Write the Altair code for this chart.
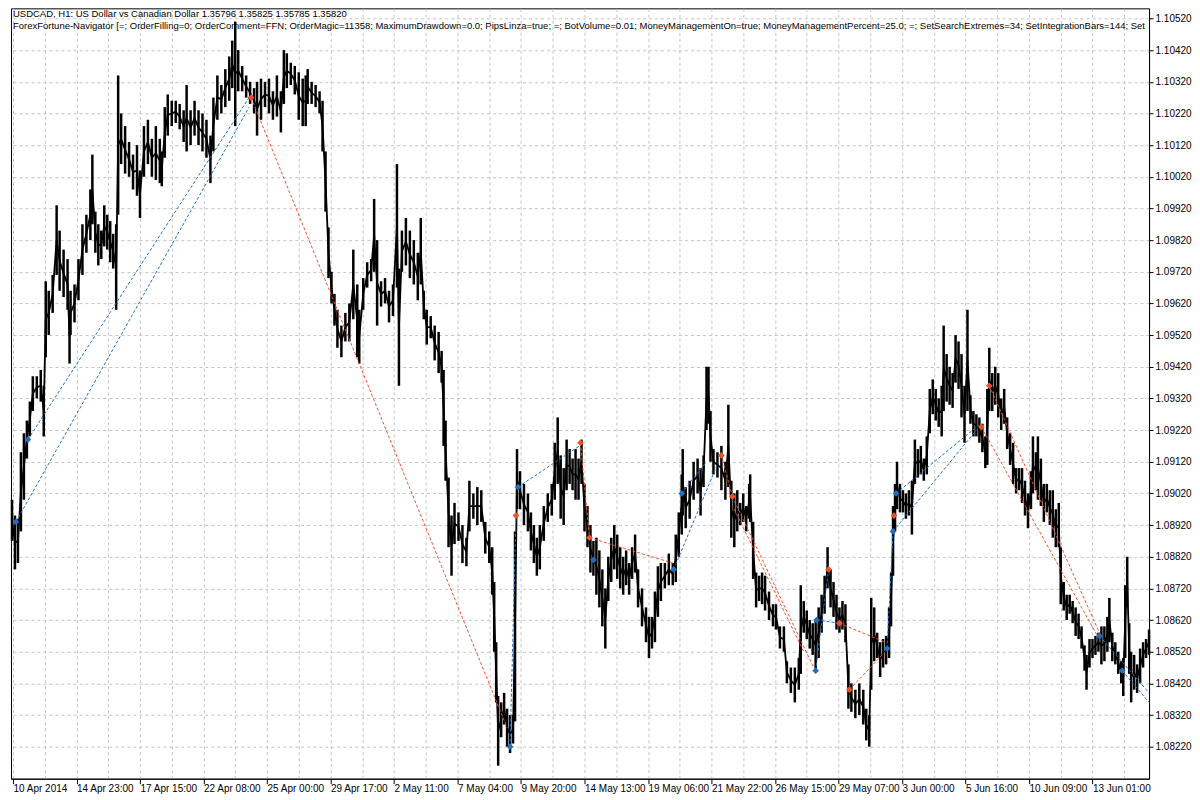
import altair as alt
import pandas as pd

# ---------------- price bars (hour index, high, low) ----------------
bar_t = [
    -1, 2, 5, 8, 11, 14, 17, 20, 24, 28,
    31, 33, 36, 40, 44, 47, 51, 55, 57, 58,
    62, 66, 70, 74, 78, 80, 83, 86, 89, 92,
    95, 98, 101, 104, 106, 109, 113, 117, 121, 125,
    128, 132, 136, 140, 144, 148, 150, 153, 156, 160,
    164, 168, 172, 175, 179, 183, 187, 191, 195, 199,
    202, 206, 210, 214, 218, 221, 224, 227, 231, 235,
    239, 243, 246, 250, 254, 258, 262, 266, 270, 273,
    276, 280, 284, 288, 292, 295, 297, 301, 305, 309,
    312, 315, 318, 321, 324, 327, 331, 335, 339, 343,
    347, 349, 353, 357, 361, 364, 367, 371, 375, 379,
    383, 387, 389, 392, 396, 400, 404, 408, 411, 414,
    417, 421, 425, 429, 432, 434, 436, 439, 442, 445,
    449, 453, 457, 460, 464, 468, 472, 476, 480, 483,
    485, 487, 489, 492, 495, 498, 501, 504, 506, 508,
    511, 515, 519, 522, 525, 528, 531, 535, 539, 543,
    546, 549, 552, 555, 558, 561, 564, 567, 570, 573,
    576, 579, 582, 585, 588, 591, 594, 597, 600, 603,
    606, 609, 612, 615, 618, 621, 624, 627, 630, 634,
    638, 641, 644, 647, 650, 653, 657, 661, 665, 668,
    671, 674, 675, 678, 682, 686, 690, 693, 696, 699,
    701, 703, 706, 710, 714, 718, 721, 724, 727, 730,
    733, 736, 739, 742, 743, 746, 749, 752, 755, 758,
    762, 766, 769, 773, 777, 780, 784, 788, 792, 794,
    797, 800, 803, 806, 809, 812, 815, 818, 821, 824,
    827, 830, 833, 836, 839, 842, 845, 849, 853, 857,
    860, 863, 865, 868, 871, 874, 877, 880, 883, 885,
    887, 889, 891, 894, 897, 900, 903, 906, 909, 912,
    915, 918, 921, 924, 927, 930, 933, 936, 938, 941,
    944, 947, 950, 953, 956, 959, 962, 965, 968, 971,
    974, 977, 980, 982, 984, 987, 990, 993, 996, 999,
    1002, 1005, 1008, 1011, 1014, 1017, 1020, 1023, 1026, 1028,
    1031, 1033, 1036, 1039, 1042, 1045, 1048, 1051, 1054, 1056,
    1059, 1062, 1065, 1068, 1071, 1074, 1077, 1080, 1082, 1085,
    1088, 1091, 1094, 1097, 1100, 1103, 1105, 1108, 1111, 1114,
    1117, 1119, 1121, 1123, 1125, 1127, 1130, 1133, 1136, 1139,
    1142, 1145,
]
bar_high = [
    1.0900, 1.0895, 1.0894, 1.0915, 1.0921, 1.0925, 1.0931, 1.0939, 1.0939, 1.0941,
    1.0936, 1.0969, 1.0966, 1.0971, 1.0993, 1.0985, 1.0979, 1.0976, 1.0960, 1.0966,
    1.0968, 1.0976, 1.0987, 1.0990, 1.0998, 1.1009, 1.0991, 1.0987, 1.0985, 1.0993,
    1.0990, 1.0988, 1.0984, 1.0987, 1.1034, 1.1022, 1.1018, 1.1013, 1.1009, 1.1012,
    1.1004, 1.1018, 1.1020, 1.1014, 1.1018, 1.1014, 1.1010, 1.1024, 1.1028, 1.1026,
    1.1026, 1.1025, 1.1023, 1.1031, 1.1023, 1.1026, 1.1023, 1.1022, 1.1020, 1.1015,
    1.1027, 1.1034, 1.1031, 1.1036, 1.1040, 1.1045, 1.1051, 1.1042, 1.1037, 1.1034,
    1.1032, 1.1030, 1.1032, 1.1033, 1.1032, 1.1033, 1.1029, 1.1034, 1.1029, 1.1042,
    1.1041, 1.1038, 1.1037, 1.1035, 1.1033, 1.1034, 1.1036, 1.1032, 1.1031, 1.1029,
    1.1026, 1.1010, 1.0986, 1.0972, 1.0965, 1.0960, 1.0955, 1.0959, 1.0962, 1.0979,
    1.0968, 1.0960, 1.0970, 1.0975, 1.0976, 1.0995, 1.0982, 1.0969, 1.0970, 1.0966,
    1.0968, 1.1006, 1.0973, 1.0985, 1.0989, 1.0985, 1.0982, 1.0978, 1.0989, 1.0966,
    1.0960, 1.0958, 1.0955, 1.0953, 1.0947, 1.0941, 1.0925, 1.0907, 1.0895, 1.0899,
    1.0896, 1.0892, 1.0888, 1.0906, 1.0902, 1.0904, 1.0903, 1.0893, 1.0890, 1.0885,
    1.0874, 1.0855, 1.0838, 1.0836, 1.0839, 1.0834, 1.0832, 1.0832, 1.0890, 1.0916,
    1.0909, 1.0905, 1.0902, 1.0896, 1.0892, 1.0888, 1.0892, 1.0898, 1.0902, 1.0905,
    1.0918, 1.0926, 1.0914, 1.0910, 1.0919, 1.0916, 1.0913, 1.0916, 1.0913, 1.0919,
    1.0905, 1.0898, 1.0892, 1.0887, 1.0888, 1.0884, 1.0878, 1.0872, 1.0882, 1.0888,
    1.0892, 1.0889, 1.0885, 1.0882, 1.0884, 1.0880, 1.0885, 1.0889, 1.0878, 1.0872,
    1.0866, 1.0863, 1.0863, 1.0871, 1.0879, 1.0880, 1.0880, 1.0883, 1.0880, 1.0889,
    1.0896, 1.0908, 1.0916, 1.0904, 1.0906, 1.0912, 1.0913, 1.0910, 1.0914, 1.0942,
    1.0942, 1.0928, 1.0916, 1.0915, 1.0917, 1.0912, 1.0930, 1.0906, 1.0902, 1.0903,
    1.0899, 1.0902, 1.0898, 1.0905, 1.0908, 1.0893, 1.0877, 1.0876, 1.0877, 1.0876,
    1.0871, 1.0867, 1.0867, 1.0860, 1.0860, 1.0849, 1.0847, 1.0847, 1.0850, 1.0873,
    1.0868, 1.0865, 1.0862, 1.0861, 1.0862, 1.0866, 1.0870, 1.0876, 1.0885, 1.0878,
    1.0874, 1.0870, 1.0866, 1.0868, 1.0867, 1.0848, 1.0842, 1.0840, 1.0842, 1.0840,
    1.0834, 1.0832, 1.0869, 1.0866, 1.0858, 1.0855, 1.0856, 1.0857, 1.0866, 1.0877,
    1.0898, 1.0905, 1.0912, 1.0905, 1.0903, 1.0902, 1.0903, 1.0906, 1.0919, 1.0916,
    1.0917, 1.0913, 1.0920, 1.0935, 1.0938, 1.0935, 1.0932, 1.0936, 1.0955, 1.0946,
    1.0942, 1.0940, 1.0952, 1.0950, 1.0946, 1.0936, 1.0960, 1.0933, 1.0928, 1.0927,
    1.0926, 1.0924, 1.0920, 1.0935, 1.0948, 1.0940, 1.0942, 1.0940, 1.0932, 1.0935,
    1.0926, 1.0921, 1.0918, 1.0910, 1.0910, 1.0910, 1.0906, 1.0902, 1.0909, 1.0920,
    1.0915, 1.0920, 1.0913, 1.0905, 1.0905, 1.0903, 1.0903, 1.0897, 1.0899, 1.0885,
    1.0874, 1.0870, 1.0870, 1.0868, 1.0866, 1.0864, 1.0860, 1.0854, 1.0851, 1.0856,
    1.0856, 1.0857, 1.0858, 1.0860, 1.0860, 1.0863, 1.0869, 1.0858, 1.0855, 1.0852,
    1.0849, 1.0850, 1.0873, 1.0882, 1.0861, 1.0852, 1.0851, 1.0848, 1.0853, 1.0855,
    1.0856, 1.0859,
]
bar_low = [
    1.0887, 1.0878, 1.0880, 1.0890, 1.0900, 1.0913, 1.0920, 1.0928, 1.0932, 1.0931,
    1.0920, 1.0945, 1.0952, 1.0959, 1.0971, 1.0966, 1.0964, 1.0960, 1.0943, 1.0952,
    1.0956, 1.0963, 1.0971, 1.0978, 1.0982, 1.0987, 1.0978, 1.0974, 1.0976, 1.0980,
    1.0979, 1.0975, 1.0973, 1.0960, 1.0990, 1.1006, 1.1003, 1.1002, 1.0998, 1.0996,
    1.0989, 1.1002, 1.1006, 1.1002, 1.1001, 1.1000, 1.0999, 1.1008, 1.1015, 1.1018,
    1.1019, 1.1017, 1.1013, 1.1010, 1.1012, 1.1015, 1.1012, 1.1010, 1.1008, 1.1000,
    1.1010, 1.1020, 1.1022, 1.1024, 1.1026, 1.1030, 1.1018, 1.1029, 1.1029, 1.1027,
    1.1025, 1.1022, 1.1015, 1.1020, 1.1024, 1.1022, 1.1020, 1.1021, 1.1016, 1.1025,
    1.1030, 1.1031, 1.1028, 1.1020, 1.1018, 1.1018, 1.1025, 1.1025, 1.1024, 1.1022,
    1.1010, 1.0991, 1.0970, 1.0962, 1.0955, 1.0948, 1.0945, 1.0950, 1.0950, 1.0957,
    1.0945, 1.0943, 1.0960, 1.0967, 1.0969, 1.0972, 1.0955, 1.0961, 1.0962, 1.0956,
    1.0958, 1.0967, 1.0936, 1.0972, 1.0974, 1.0970, 1.0968, 1.0963, 1.0968, 1.0957,
    1.0949, 1.0951, 1.0944, 1.0940, 1.0937, 1.0917, 1.0906, 1.0885, 1.0876, 1.0886,
    1.0887, 1.0880, 1.0879, 1.0890, 1.0894, 1.0892, 1.0893, 1.0883, 1.0880, 1.0870,
    1.0852, 1.0836, 1.0816, 1.0825, 1.0829, 1.0822, 1.0820, 1.0823, 1.0830, 1.0897,
    1.0897, 1.0892, 1.0890, 1.0884, 1.0880, 1.0876, 1.0878, 1.0887, 1.0893, 1.0895,
    1.0900, 1.0905, 1.0894, 1.0892, 1.0903, 1.0905, 1.0903, 1.0900, 1.0900, 1.0905,
    1.0890, 1.0885, 1.0877, 1.0876, 1.0870, 1.0866, 1.0860, 1.0853, 1.0868, 1.0874,
    1.0878, 1.0875, 1.0872, 1.0870, 1.0873, 1.0870, 1.0875, 1.0877, 1.0866, 1.0860,
    1.0855, 1.0850, 1.0853, 1.0855, 1.0863, 1.0868, 1.0872, 1.0873, 1.0873, 1.0874,
    1.0882, 1.0889, 1.0895, 1.0891, 1.0894, 1.0900, 1.0902, 1.0895, 1.0904, 1.0922,
    1.0924, 1.0912, 1.0908, 1.0907, 1.0903, 1.0900, 1.0904, 1.0888, 1.0885, 1.0890,
    1.0892, 1.0893, 1.0890, 1.0894, 1.0893, 1.0875, 1.0866, 1.0868, 1.0867, 1.0865,
    1.0862, 1.0860, 1.0859, 1.0853, 1.0852, 1.0842, 1.0839, 1.0836, 1.0840, 1.0845,
    1.0858, 1.0856, 1.0853, 1.0851, 1.0846, 1.0850, 1.0858, 1.0864, 1.0872, 1.0866,
    1.0863, 1.0859, 1.0858, 1.0859, 1.0855, 1.0834, 1.0833, 1.0831, 1.0832, 1.0829,
    1.0824, 1.0822, 1.0840, 1.0849, 1.0850, 1.0844, 1.0847, 1.0848, 1.0850, 1.0860,
    1.0876, 1.0890, 1.0897, 1.0896, 1.0896, 1.0894, 1.0895, 1.0889, 1.0905, 1.0907,
    1.0908, 1.0906, 1.0908, 1.0921, 1.0927, 1.0925, 1.0923, 1.0920, 1.0928, 1.0931,
    1.0930, 1.0929, 1.0937, 1.0935, 1.0926, 1.0918, 1.0928, 1.0924, 1.0920, 1.0920,
    1.0918, 1.0915, 1.0910, 1.0911, 1.0928, 1.0928, 1.0930, 1.0926, 1.0922, 1.0924,
    1.0916, 1.0911, 1.0905, 1.0902, 1.0903, 1.0899, 1.0895, 1.0891, 1.0897, 1.0902,
    1.0903, 1.0900, 1.0898, 1.0893, 1.0896, 1.0892, 1.0888, 1.0885, 1.0885, 1.0867,
    1.0865, 1.0862, 1.0864, 1.0861, 1.0857, 1.0856, 1.0853, 1.0846, 1.0840, 1.0847,
    1.0850, 1.0851, 1.0852, 1.0848, 1.0849, 1.0852, 1.0855, 1.0849, 1.0848, 1.0845,
    1.0842, 1.0838, 1.0850, 1.0866, 1.0845, 1.0836, 1.0840, 1.0839, 1.0842, 1.0847,
    1.0850, 1.0851,
]

# ---------------- trade markers ----------------
marker_t = [3, 15, 240, 501, 507, 509, 572, 581, 585, 666, 674, 714, 725,
            809, 810, 822, 833, 843, 881, 887, 888, 890, 976, 984, 1095, 1118]
marker_p = [1.0893, 1.0919, 1.1027, 1.0822, 1.0895, 1.0904, 1.0918, 1.0888,
            1.0881, 1.0878, 1.0902, 1.0914, 1.0901, 1.0846, 1.0862, 1.0878,
            1.0861, 1.0840, 1.0853, 1.0890, 1.0895, 1.0902, 1.0923, 1.0936,
            1.0857, 1.0846]
marker_side = ["buy", "buy", "sell", "buy", "sell", "buy", "sell", "sell",
               "buy", "buy", "buy", "sell", "sell", "buy", "buy", "sell",
               "sell", "sell", "buy", "buy", "sell", "buy", "sell", "sell",
               "buy", "buy"]

# ---------------- trade connection lines ----------------
trade_open_t = [3, 15, 240, 501, 509, 572, 581, 666, 674, 714, 725, 727,
                809, 810, 833, 843, 881, 887, 890, 976, 984, 1095, 1118]
trade_open_p = [1.0893, 1.0919, 1.1027, 1.0822, 1.0904, 1.0918, 1.0888, 1.0878,
                1.0902, 1.0914, 1.0901, 1.0897, 1.0846, 1.0862, 1.0861, 1.0840,
                1.0853, 1.0890, 1.0902, 1.0923, 1.0936, 1.0857, 1.0846]
trade_close_t = [238, 240, 498, 507, 571, 581, 665, 711, 699, 725, 807, 797,
                 822, 833, 879, 879, 887, 971, 975, 1093, 1095, 1145, 1145]
trade_close_p = [1.1024, 1.1028, 1.0828, 1.0895, 1.0917, 1.0888, 1.0880, 1.0912,
                 1.0912, 1.0901, 1.0847, 1.0852, 1.0878, 1.0861, 1.0855, 1.0852,
                 1.0890, 1.0922, 1.0924, 1.0857, 1.0858, 1.0839, 1.0836]
trade_side = ["buy", "buy", "sell", "buy", "buy", "sell", "sell", "buy", "buy",
              "sell", "sell", "sell", "buy", "buy", "sell", "sell", "buy", "buy",
              "buy", "sell", "sell", "buy", "buy"]

# ---------------- axis labels ----------------
x_label_t = [0, 64, 128, 192, 256, 320, 384, 448, 512, 576, 640, 704, 768,
             832, 896, 960, 1024, 1088]
x_labels = ["10 Apr 2014", "14 Apr 23:00", "17 Apr 15:00", "22 Apr 08:00",
            "25 Apr 00:00", "29 Apr 17:00", "2 May 11:00", "7 May 04:00",
            "9 May 20:00", "14 May 13:00", "19 May 06:00", "21 May 22:00",
            "26 May 15:00", "29 May 07:00", "3 Jun 00:00", "5 Jun 16:00",
            "10 Jun 09:00", "13 Jun 01:00"]
x_grid_t = list(range(0, 1121, 32))
y_ticks = [round(1.08220 + 0.001 * k, 5) for k in range(24)]

title_line1 = "USDCAD, H1:  US Dollar vs Canadian Dollar  1.35796 1.35825 1.35785 1.35820"
title_line2 = ("ForexFortune-Navigator [=; OrderFilling=0; OrderComment=FFN; OrderMagic=11358; "
               "MaximumDrawdown=0.0; PipsLinza=true; =; BotVolume=0.01; MoneyManagementOn=true; "
               "MoneyManagementPercent=25.0; =; SetSearchExtremes=34; SetIntegrationBars=144; Set")

BLUE = "#1f6fc0"
RED = "#ef5028"
FONT = "Liberation Sans"

bars = pd.DataFrame({"t": bar_t, "high": bar_high, "low": bar_low})
bars["mid"] = (bars["high"] + bars["low"]) / 2
markers = pd.DataFrame({"t": marker_t, "p": marker_p, "side": marker_side})
trades = pd.DataFrame({"t0": trade_open_t, "p0": trade_open_p,
                       "t1": trade_close_t, "p1": trade_close_p, "side": trade_side})

label_expr = " : ".join(
    f"datum.value == {t} ? '{lab}'" for t, lab in zip(x_label_t, x_labels)
) + " : ''"

x_scale = alt.Scale(domain=[-2, 1145], nice=False, zero=False)
y_scale = alt.Scale(domain=[1.08119, 1.10552], nice=False, zero=False)
color_scale = alt.Scale(domain=["buy", "sell"], range=[BLUE, RED])

x_axis = alt.Axis(
    values=x_grid_t, labelExpr=label_expr, title=None,
    grid=True, gridDash=[3, 3], gridColor="#c4c4c4", gridWidth=1,
    tickColor={"condition": {"test": "datum.value % 64 === 0", "value": "black"},
               "value": "transparent"},
    tickSize=5, labelAlign="left", labelBaseline="top", labelPadding=0,
    labelFont=FONT, labelFontSize=10, labelColor="black", labelOverlap=False,
    labelFlush=False, domainColor="black",
)
y_axis = alt.Axis(
    values=y_ticks, format=".5f", orient="right", title=None,
    grid=True, gridDash=[3, 3], gridColor="#c4c4c4", gridWidth=1,
    tickSize=4, tickColor="black", labelPadding=2, labelFont=FONT,
    labelFontSize=10, labelColor="black", labelOverlap=False,
    labelFlush=False, domainColor="black",
)

price_rules = alt.Chart(bars).mark_rule(color="black", strokeWidth=2.5).encode(
    x=alt.X("t:Q", scale=x_scale, axis=x_axis),
    y=alt.Y("low:Q", scale=y_scale, axis=y_axis),
    y2="high:Q",
)
price_line = alt.Chart(bars).mark_line(color="black", strokeWidth=1.8).encode(
    x=alt.X("t:Q", scale=x_scale, axis=x_axis),
    y=alt.Y("mid:Q", scale=y_scale, axis=y_axis),
)
trade_lines = alt.Chart(trades).mark_rule(strokeDash=[3, 2], strokeWidth=1).encode(
    x=alt.X("t0:Q", scale=x_scale, axis=x_axis),
    x2="t1:Q",
    y=alt.Y("p0:Q", scale=y_scale, axis=y_axis),
    y2="p1:Q",
    color=alt.Color("side:N", scale=color_scale, legend=None),
)
trade_marks = alt.Chart(markers).mark_point(
    shape="diamond", filled=True, size=45, opacity=1
).encode(
    x=alt.X("t:Q", scale=x_scale, axis=x_axis),
    y=alt.Y("p:Q", scale=y_scale, axis=y_axis),
    color=alt.Color("side:N", scale=color_scale, legend=None),
)

one = pd.DataFrame({"k": [0]})
text1 = alt.Chart(one).mark_text(
    align="left", baseline="top", font=FONT, fontSize=9.5, color="black",
    clip=True
).encode(x=alt.value(2), y=alt.value(1), text=alt.value(title_line1))
text2 = alt.Chart(one).mark_text(
    align="left", baseline="top", font=FONT, fontSize=9.5, color="black",
    clip=True
).encode(x=alt.value(2), y=alt.value(13), text=alt.value(title_line2))

chart = alt.layer(
    price_rules, price_line, trade_lines, trade_marks, text1, text2
).properties(
    width=1139, height=771, padding=0, background="white"
).configure_view(
    stroke="black", strokeWidth=1
)

chart.save("out.html", embed_options={"renderer": "svg", "actions": False})
